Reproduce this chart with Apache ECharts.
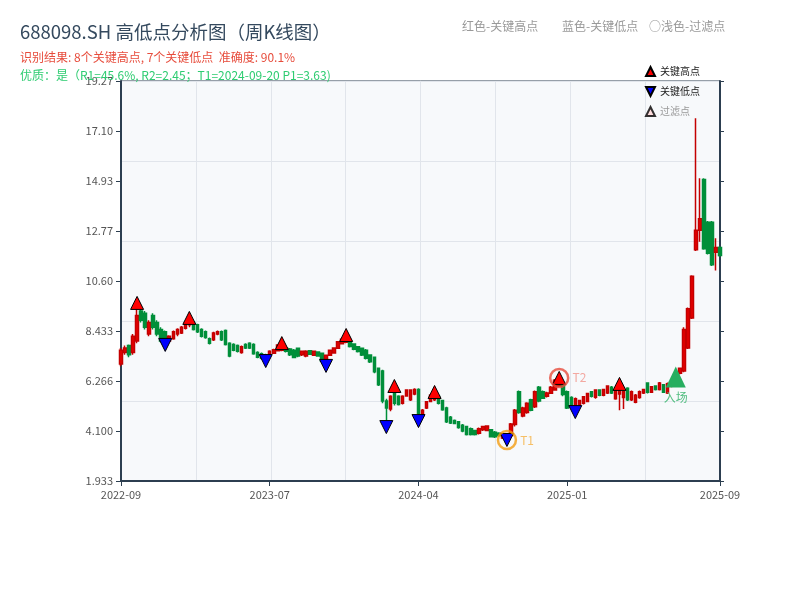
<!DOCTYPE html>
<html><head><meta charset="utf-8">
<script src="https://cdn.jsdelivr.net/npm/echarts@6/dist/echarts.min.js"></script>
<style>html,body{margin:0;padding:0;background:#fff}#c{width:800px;height:600px}</style>
</head><body><div id="c"></div>
<script>
const dates = [
'2022-09-30','2022-10-14','2022-10-21','2022-10-28','2022-11-11','2022-11-18','2022-11-25','2022-12-02','2022-12-09','2022-12-16',
'2022-12-23','2023-01-06','2023-01-13','2023-01-20','2023-02-03','2023-02-10','2023-02-17','2023-02-24','2023-03-03','2023-03-10',
'2023-03-17','2023-03-24','2023-03-31','2023-04-07','2023-04-14','2023-04-21','2023-05-05','2023-05-12','2023-05-19','2023-05-26',
'2023-06-02','2023-06-09','2023-06-16','2023-06-21','2023-06-30','2023-07-07','2023-07-14','2023-07-21','2023-07-28','2023-08-04',
'2023-08-11','2023-08-18','2023-08-25','2023-09-01','2023-09-08','2023-09-15','2023-09-22','2023-09-28','2023-10-13','2023-10-20',
'2023-10-27','2023-11-03','2023-11-10','2023-11-17','2023-11-24','2023-12-01','2023-12-08','2023-12-15','2023-12-22','2023-12-29',
'2024-01-05','2024-01-12','2024-01-19','2024-01-26','2024-02-02','2024-02-08','2024-02-23','2024-03-01','2024-03-08','2024-03-15',
'2024-03-22','2024-03-29','2024-04-03','2024-04-12','2024-04-19','2024-04-26','2024-04-30','2024-05-10','2024-05-17','2024-05-24',
'2024-05-31','2024-06-07','2024-06-14','2024-06-21','2024-06-28','2024-07-05','2024-07-12','2024-07-19','2024-07-26','2024-08-02',
'2024-08-09','2024-08-16','2024-08-23','2024-08-30','2024-09-06','2024-09-13','2024-09-20','2024-09-27','2024-09-30','2024-10-11',
'2024-10-18','2024-10-25','2024-11-01','2024-11-08','2024-11-15','2024-11-22','2024-11-29','2024-12-06','2024-12-13','2024-12-20',
'2024-12-27','2025-01-03','2025-01-10','2025-01-17','2025-01-24','2025-01-27','2025-02-07','2025-02-14','2025-02-21','2025-02-28',
'2025-03-07','2025-03-14','2025-03-21','2025-03-28','2025-04-03','2025-04-11','2025-04-18','2025-04-25','2025-04-30','2025-05-09',
'2025-05-16','2025-05-23','2025-05-30','2025-06-06','2025-06-13','2025-06-20','2025-06-27','2025-07-04','2025-07-11','2025-07-18',
'2025-07-25','2025-08-01','2025-08-08','2025-08-15','2025-08-22','2025-08-29','2025-09-05','2025-09-12','2025-09-19','2025-09-26'
];
// [open, close, low, high]
const kline = [
[7.0,7.6,6.9,7.7],[7.5,7.7,7.4,7.8],[7.8,7.4,7.3,7.85],[7.5,8.2,7.4,8.3],[8.0,9.1,7.9,9.4],
[9.3,8.9,8.8,9.35],[9.2,8.6,8.5,9.3],[8.3,8.8,8.2,8.9],[9.1,8.6,8.5,9.2],[8.8,8.3,8.2,8.9],
[8.5,8.0,7.95,8.6],[8.4,8.1,8.0,8.45],[8.0,8.2,7.95,8.25],[8.1,8.4,8.05,8.45],[8.3,8.5,8.2,8.55],
[8.35,8.6,8.3,8.65],[8.55,8.8,8.5,8.85],[8.7,8.85,8.6,8.9],[8.8,8.5,8.45,8.85],[8.7,8.4,8.35,8.75],
[8.5,8.2,8.15,8.55],[8.4,8.15,8.1,8.45],[8.1,7.9,7.85,8.15],[8.05,8.35,8.0,8.4],[8.3,8.4,8.25,8.45],
[8.4,8.05,8.0,8.45],[8.45,7.85,7.8,8.5],[7.9,7.35,7.3,7.95],[7.85,7.6,7.55,7.9],[7.8,7.55,7.5,7.85],
[7.5,7.75,7.45,7.8],[7.85,7.7,7.65,7.9],[7.9,7.7,7.65,7.95],[7.85,7.45,7.4,7.9],[7.5,7.3,7.25,7.55],
[7.45,7.25,7.2,7.5],[7.4,7.25,7.2,7.45],[7.42,7.55,7.38,7.6],[7.47,7.62,7.44,7.66],[7.58,7.83,7.55,7.86],
[7.6,7.75,7.55,7.8],[7.7,7.55,7.5,7.75],[7.65,7.4,7.35,7.7],[7.6,7.28,7.25,7.65],[7.68,7.35,7.3,7.72],
[7.4,7.55,7.35,7.58],[7.35,7.55,7.3,7.6],[7.58,7.42,7.4,7.6],[7.38,7.55,7.35,7.58],[7.52,7.35,7.32,7.55],
[7.47,7.12,7.08,7.5],[7.18,7.38,7.1,7.4],[7.38,7.6,7.35,7.62],[7.48,7.7,7.45,7.72],[7.68,7.97,7.65,8.0],
[7.88,8.08,7.85,8.1],[7.95,8.12,7.9,8.15],[8.0,7.76,7.72,8.05],[7.87,7.64,7.6,7.9],[7.75,7.54,7.5,7.78],
[7.68,7.39,7.35,7.72],[7.6,7.25,7.2,7.65],[7.39,7.1,7.05,7.42],[7.3,6.67,6.6,7.32],[6.82,6.1,6.05,6.85],
[6.7,5.4,5.3,6.75],[5.4,5.1,4.55,5.5],[5.05,5.6,4.95,5.65],[5.75,5.3,5.2,5.85],[5.6,5.25,5.2,5.65],
[5.3,5.6,5.25,5.65],[5.62,5.88,5.58,5.9],[5.45,5.88,5.4,5.9],[5.7,5.9,5.65,5.95],[5.9,4.85,4.8,5.95],
[4.75,5.0,4.7,5.05],[5.1,5.37,5.05,5.4],[5.38,5.65,5.35,5.7],[5.45,5.6,5.4,5.65],[5.6,5.3,5.25,5.65],
[5.42,5.02,4.98,5.45],[5.1,4.5,4.45,5.15],[4.7,4.45,4.4,4.75],[4.55,4.43,4.4,4.6],[4.5,4.25,4.2,4.52],
[4.35,4.1,4.05,4.4],[4.3,3.95,3.9,4.32],[4.2,3.95,3.9,4.25],[4.12,3.95,3.9,4.15],[4.0,4.2,3.95,4.25],
[4.15,4.3,4.1,4.32],[4.12,4.32,4.1,4.35],[4.15,3.85,3.82,4.18],[4.05,3.85,3.8,4.1],[4.0,3.9,3.85,4.05],
[3.8,3.92,3.75,3.95],[3.85,3.95,3.63,4.0],[3.9,4.4,3.85,4.45],[4.38,5.0,4.3,5.05],[5.8,4.9,4.85,5.85],
[4.75,5.1,4.7,5.15],[4.9,5.3,4.85,5.35],[5.45,5.0,4.95,5.5],[5.15,5.8,5.1,5.85],[6.0,5.4,5.35,6.05],
[5.8,5.52,5.5,5.85],[5.6,5.75,5.55,5.8],[5.73,6.0,5.7,6.05],[5.88,6.3,5.85,6.35],[6.05,6.4,6.0,6.5],
[6.1,5.68,5.6,6.15],[5.8,5.1,5.05,5.85],[5.55,5.15,5.1,5.6],[5.15,5.5,5.1,5.55],[5.25,5.42,5.2,5.45],
[5.3,5.58,5.25,5.6],[5.38,5.72,5.35,5.75],[5.8,5.6,5.55,5.82],[5.56,5.88,5.5,5.9],[5.88,5.65,5.6,5.9],
[5.65,5.9,5.6,5.92],[5.75,6.05,5.7,6.08],[6.0,5.75,5.7,6.05],[5.5,5.9,5.45,5.95],[5.7,5.9,5.0,5.92],
[5.55,5.8,5.05,5.85],[5.95,5.45,5.4,6.0],[5.45,5.8,5.4,5.85],[5.35,5.65,5.3,5.7],[5.55,5.8,5.5,5.85],
[5.75,5.9,5.7,5.92],[6.18,5.78,5.72,6.2],[5.78,6.02,5.75,6.05],[6.05,5.9,5.85,6.08],[5.9,6.18,5.85,6.22],
[6.1,5.78,5.75,6.12],[5.75,6.15,5.7,6.2],[6.05,6.2,6.0,6.25],[6.15,6.3,6.1,6.35],[6.6,6.82,6.55,6.85],
[6.7,8.5,6.65,8.6],[7.7,9.4,7.65,9.45],[9.0,10.8,8.95,10.85],[11.95,12.8,11.9,17.65],[12.8,13.3,12.3,15.05],
[15.0,12.0,11.95,15.05],[13.15,11.8,11.75,13.2],[13.15,11.3,11.25,13.2],[11.85,12.05,11.05,12.45],[12.05,11.7,11.65,12.1]
];
const highIdx = [4, 17, 40, 56, 68, 78, 109, 124];
const highVal = [9.65, 9.0, 7.91, 8.26, 6.05, 5.79, 6.40, 6.14];
const lowIdx = [11, 36, 51, 66, 74, 96, 113];
const lowVal = [7.83, 7.13, 6.92, 4.27, 4.53, 3.71, 4.92];
const t1 = [96, 3.71];
const t2 = [109, 6.40];
const entry = [138, 6.44];
const yMin = 1.933, yStep = 2.1666, ySplits = 8;

const downTri = 'path://M0,0 L10,0 L5,10 Z';
const tickFn = (i) => i % 37 === 0 || i === dates.length - 1;
const font = '"Noto Sans CJK SC", "Noto Sans", sans-serif';
const note = (text, left) => ({ text, left, top: 20, padding: 0,
  textStyle: { fontSize: 12, fontWeight: 'normal', color: '#999999', fontFamily: font } });
const chart = echarts.init(document.getElementById('c'));
chart.setOption({
  animation: false,
  backgroundColor: '#ffffff',
  textStyle: { fontFamily: font },
  title: [
    { text: '688098.SH 高低点分析图（周K线图）', left: 20, top: 23, padding: 0,
      textStyle: { fontSize: 18.5, fontWeight: 'normal', color: '#34495e', fontFamily: font } },
    { text: '识别结果: 8个关键高点, 7个关键低点  准确度: 90.1%', left: 20, top: 51, padding: 0,
      textStyle: { fontSize: 12, fontWeight: 'normal', color: '#e74c3c', fontFamily: font } },
    { text: '优质：是（R1=45.6%, R2=2.45；T1=2024-09-20 P1=3.63)', left: 20, top: 69, padding: 0,
      textStyle: { fontSize: 12, fontWeight: 'normal', color: '#2ecc71', fontFamily: font } },
    note('红色-关键高点', 462), note('蓝色-关键低点', 562), note('○浅色-过滤点', 649)
  ],
  legend: {
    orient: 'vertical', left: 645, top: 66, padding: 0, itemWidth: 9, itemHeight: 9, itemGap: 9,
    textStyle: { fontSize: 10, color: '#222', fontFamily: font },
    data: [
      { name: '关键高点', icon: 'triangle' },
      { name: '关键低点', icon: downTri },
      { name: '过滤点', icon: 'triangle', textStyle: { color: '#999' } }
    ]
  },
  grid: { left: 121, right: 80, top: 81, bottom: 119, show: true,
    backgroundColor: '#f7f9fb', borderColor: '#2c3e50', borderWidth: 1 },
  xAxis: [
    { type: 'category', data: dates, boundaryGap: false,
      axisLine: { lineStyle: { color: '#2c3e50', width: 2 } },
      axisTick: { interval: tickFn, length: 5, lineStyle: { color: '#2c3e50' } },
      axisLabel: { interval: tickFn, formatter: v => v.slice(0, 7), color: '#555', fontSize: 11, margin: 8,
        showMaxLabel: true, showMinLabel: true, hideOverlap: false },
      splitLine: { show: false } },
    { type: 'value', min: 0, max: 8, interval: 1, position: 'top',
      axisLine: { show: false }, axisTick: { show: false }, axisLabel: { show: false },
      splitLine: { show: true, lineStyle: { color: '#e1e5eb', width: 1 } } }
  ],
  yAxis: [
    { type: 'value', min: yMin, max: +(yMin + yStep * ySplits).toFixed(4), interval: yStep, position: 'left',
      axisLine: { show: true, lineStyle: { color: '#2c3e50', width: 2 } },
      axisTick: { show: true, length: 5, lineStyle: { color: '#2c3e50' } },
      axisLabel: { formatter: v => Number(v).toPrecision(4), color: '#555', fontSize: 11, margin: 8 },
      splitLine: { show: false } },
    { type: 'value', min: yMin, max: +(yMin + yStep * ySplits).toFixed(4), interval: yStep, position: 'right',
      axisLine: { show: true, lineStyle: { color: '#2c3e50', width: 2 } },
      axisTick: { show: true, length: 4, lineStyle: { color: '#2c3e50' } },
      axisLabel: { show: false }, splitLine: { show: false } },
    { type: 'value', min: 0, max: 5, interval: 1, position: 'right',
      axisLine: { show: false }, axisTick: { show: false }, axisLabel: { show: false },
      splitLine: { show: true, lineStyle: { color: '#e1e5eb', width: 1 } } }
  ],
  series: [
    { type: 'candlestick', name: 'K线', data: kline, barWidth: 3,
      itemStyle: { color: '#e60000', color0: '#008f3a', borderColor: '#c40000', borderColor0: '#008f3a', borderWidth: 1.5 } },
    { type: 'scatter', name: '关键高点', symbol: 'triangle', symbolSize: 13, z: 5,
      itemStyle: { color: '#ff0000', borderColor: '#000', borderWidth: 1, opacity: 1 },
      data: highIdx.map((i, k) => [i, highVal[k]]) },
    { type: 'scatter', name: '关键低点', symbol: downTri, symbolSize: 13, z: 5,
      itemStyle: { color: '#0000ff', borderColor: '#000', borderWidth: 1, opacity: 1 },
      data: lowIdx.map((i, k) => [i, lowVal[k]]) },
    { type: 'scatter', name: '过滤点', symbol: 'triangle', symbolSize: 8,
      itemStyle: { color: '#ffd6d6', borderColor: '#000', borderWidth: 1 }, data: [] },
    { type: 'scatter', name: 'T1', symbol: 'circle', symbolSize: 18, z: 6,
      itemStyle: { color: 'rgba(0,0,0,0)', borderColor: '#f39c12', borderWidth: 2.5 },
      label: { show: true, position: 'right', distance: 3, formatter: 'T1', color: '#f5b041', fontSize: 12 },
      data: [t1] },
    { type: 'scatter', name: 'T2', symbol: 'circle', symbolSize: 18, z: 6,
      itemStyle: { color: 'rgba(0,0,0,0)', borderColor: '#e74c3c', borderWidth: 2.5 },
      label: { show: true, position: 'right', distance: 3, formatter: 'T2', color: '#f1948a', fontSize: 12 },
      data: [t2] },
    { type: 'scatter', name: '入场', symbol: 'triangle', symbolSize: [20, 21], z: 6,
      itemStyle: { color: '#27ae60', opacity: 1 },
      label: { show: true, position: 'bottom', distance: 4, formatter: '入场', color: '#52be80', fontSize: 12 },
      data: [entry] }
  ]
});
</script></body></html>
